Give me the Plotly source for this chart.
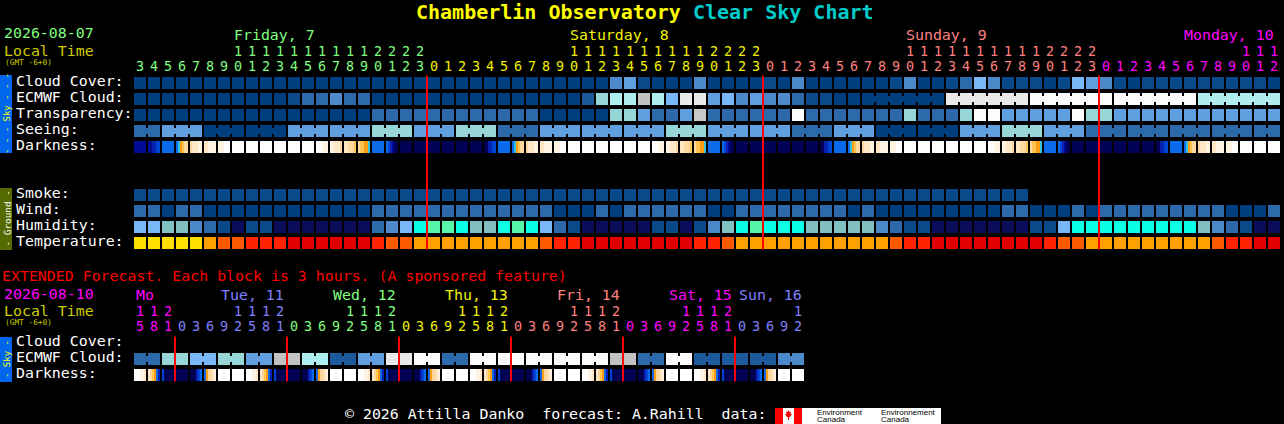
import plotly.graph_objects as go

W, H = 1284, 424
MONO = "DejaVu Sans Mono"
FS = 14.9
DS = 13.4  # hour digit size

# ---------------- tick labels ----------------
main_hours = [3, 4, 5, 6, 7, 8, 9, 10, 11, 12, 13, 14, 15, 16, 17, 18, 19, 20, 21, 22, 23,
              0, 1, 2, 3, 4, 5, 6, 7, 8, 9, 10, 11, 12, 13, 14, 15, 16, 17, 18, 19, 20, 21, 22, 23,
              0, 1, 2, 3, 4, 5, 6, 7, 8, 9, 10, 11, 12, 13, 14, 15, 16, 17, 18, 19, 20, 21, 22, 23,
              0, 1, 2, 3, 4, 5, 6, 7, 8, 9, 10, 11, 12]
main_day_names = ["Friday, 7", "Saturday, 8", "Sunday, 9", "Monday, 10"]
main_day_colors = ["#80ff80", "#f2f200", "#ff8080", "#ff00ff"]

ext_hours = [15, 18, 21,
             0, 3, 6, 9, 12, 15, 18, 21,
             0, 3, 6, 9, 12, 15, 18, 21,
             0, 3, 6, 9, 12, 15, 18, 21,
             0, 3, 6, 9, 12, 15, 18, 21,
             0, 3, 6, 9, 12, 15, 18, 21,
             0, 3, 6, 9, 12]
ext_day_names = ["Mo", "Tue, 11", "Wed, 12", "Thu, 13", "Fri, 14", "Sat, 15", "Sun, 16"]
ext_day_colors = ["#ff00ff", "#8080ff", "#80ff80", "#f2f200", "#ff8080", "#ff00ff", "#8080ff"]

# ---------------- block values (one code per hour block) ----------------
cloud_cover = ("AAAAAAAAAAAAAAAAAAAAA" "AAAAAAAAAAAAACDaAAACAAAA"
               "aACAAAAAAaCAAaBECaaaAaED" "CaAaaaaaaaaaA")
ecmwf_cloud = ("AAAAAAAAAAAaBBCBBAAAA" "AAAAAAAAAAAbFGGHGEIIDECD"
               "CCBaaAAAAAAAAIIIIIIWWWWW" "WWWWWWWGGGGGG")
ecmwf_group_sizes = [1] * 52 + [6, 6, 6, 6, 6]
transparency = ("AAAAAAAAAAAAAAAAABBBB" "BBBBBBBBAAAAAFFDBBDPBBBB"
                "BBWBBBBBBBFBBBFWWDDDDDWF" "FDDDDDDDDDDDD")
seeing_values = ["B", "D", "A", "A", "D", "D", "F", "D", "F", "B", "D", "D", "D", "F",
                 "D", "D", "B", "D", "A", "A", "D", "F", "D", "B", "B", "B", "B", "B"]
seeing_group_sizes = [2, 3, 3, 3, 3, 3, 3, 3, 3, 3, 3, 3, 3, 3,
                      3, 3, 3, 3, 3, 3, 3, 3, 3, 3, 3, 3, 3, 2]
darkness = ["M", "MMKKJJ", "L", "Lcoypp", "pqqqrr", "qqrrrr", "rrrWWW", "W", "W", "W", "W",
            "W", "W", "WWWrrr", "rrqqqp", "qqpppy", "pyyooc", "L", "LJKMNN", "N", "N",
            "N", "N", "N", "N", "NNKKJJ", "L", "Lcoypp", "pqqqrr", "qqrrrr", "rrrWWW", "W", "W",
            "W", "W", "W", "W", "WWWrrr", "rrqqqp", "qqpppy", "pyyooc", "L", "LJKMNN", "N", "N",
            "N", "N", "N", "N", "NNKKJJ", "L", "Lcoypp", "pqqqrr", "qqrrrr", "rrrWWW", "W", "W",
            "W", "W", "W", "W", "WWWrrr", "rrqqqp", "qqpppy", "pyyooc", "L", "LJKMNN", "N", "N",
            "N", "N", "N", "N", "NNKKJJ", "L", "Lcoypp", "pqqqrr", "qqrrrr", "rrrWWW", "W", "W", "W"]
smoke = ("aaaaaaaaaaaaaaaaaaaaa" "aaaaaaaaaaaaaaaaaaaaaaaa"
         "aaaaaaaaaaaaaaaaaaa....." ".............")
wind = ("BBABBAAAAAAAAAAAABBBB" "BBBBBBBBBAAABABBBBBBAABB"
        "BBBBBBABAAAAAAAAABBAAABA" "BBBBBBBBBAAAB")
humidity = ("EETTCBaVaaVVVVVVVBCEY" "ZZYTTYZYEBaVVVVVaaVaCTYZ"
            "YYYTTTTTCBaaVVVVVVVaaEYY" "YYYYYYYTCBaVV")
temperature = ("yyyyyOooRRRXXXXXXRooO" "OOOOOOOOoRRXXXXXXXXRRoOO"
               "OOOOOOOOOoRRXXXXXXXXRooO" "OOOOOOOOoRRXX")

ext_ecmwf_values = ["B", "F", "E", "F", "D", "H", "G", "b", "D", "I", "W", "B",
                    "W", "W", "W", "W", "W", "H", "B", "W", "b", "b", "b", "C"]
ext_ecmwf_group_sizes = [2, 2, 2, 2, 2, 2, 2, 2, 2, 2, 2, 2,
                         2, 2, 2, 2, 2, 2, 2, 2, 2, 2, 2, 2]
ext_darkness = ["WWWrrq", "qpyoLK", "JNNNNN",
                "N", "NNNKJL", "Loppqr", "W", "W", "WWWrrq", "qpyoLK", "JNNNNN",
                "N", "NNNKJL", "Loppqr", "W", "W", "WWWrrq", "qpyoLK", "JNNNNN",
                "N", "NNNKJL", "Loppqr", "W", "W", "WWWrrq", "qpyoLK", "JNNNNN",
                "N", "NNNKJL", "Loppqr", "W", "W", "WWWrrq", "qpyoLK", "JNNNNN",
                "N", "NNNKJL", "Loppqr", "W", "W", "WWWrrq", "qpyoLK", "JNNNNN",
                "N", "NNNKJL", "Loppqr", "W", "W"]

sky_pal = {'A': '#003f7f', 'a': '#0b4a8a', 'b': '#1c5a9a', 'B': '#2c6aaa', 'C': '#4b89c9',
           'D': '#5f9fdf', 'E': '#78b8f8', 'F': '#96d6d6', 'G': '#aeeeee', 'H': '#c2c2c2',
           'P': '#c8c8c8', 'I': '#e9e9e9', 'W': '#fcfcfc'}
dark_pal = {'N': '#020254', 'M': '#000c96', 'K': '#0a22b0', 'J': '#0046d6', 'L': '#0a6ae8',
            'c': '#30c4e0', 'o': '#ff9c10', 'y': '#ffc452', 'p': '#ffd8a0', 'q': '#ffe6c4',
            'r': '#fff3e4', 'W': '#ffffff'}
hum_pal = {'E': '#78b8f8', 'T': '#80c0c0', 'C': '#4b89c9', 'B': '#2c6aaa', 'a': '#0b4a8a',
           'V': '#0b0b5c', 'Y': '#0affe6', 'Z': '#55f5aa'}
temp_pal = {'y': '#ffdf00', 'O': '#ffa000', 'o': '#ff5a00', 'R': '#ff2200', 'X': '#e00000'}

# ---------------- layout helpers ----------------
HW = 6 / 14      # half block width (data units)
HH = 0.375       # half block height
CH = 0.1875      # half connector height
EXT = 16.25      # row offset of extended section
LAB = -0.1       # label vertical nudge (rows)
PX = 1 / 14      # one pixel in x data units

fig = go.Figure()


def expand(values, sizes):
    out = []
    for v, s in zip(values, sizes):
        out += [v] * s
    return out


def add_row(codes, pal, yrow, sizes=None):
    polys = {}

    def rect(color, x0, x1, y0, y1):
        xs, ys = polys.setdefault(color, ([], []))
        xs += [x0, x1, x1, x0, x0, None]
        ys += [y0, y0, y1, y1, y0, None]

    for i, code in enumerate(codes):
        n = len(code)
        for j, ch in enumerate(code):
            if ch == '.':
                continue
            x0 = i - HW + j * 2 * HW / n
            x1 = i - HW + (j + 1) * 2 * HW / n
            rect(pal[ch], x0, x1, yrow - HH, yrow + HH)
    if sizes:
        i = 0
        for s in sizes:
            for k in range(i, i + s - 1):
                rect(pal[codes[k][-1]], k + HW, k + 1 - HW, yrow - CH, yrow + CH)
            i += s
    for color, (xs, ys) in polys.items():
        fig.add_trace(go.Scatter(x=xs, y=ys, fill='toself', fillcolor=color, mode='lines',
                                 line=dict(width=0), hoverinfo='skip'))


# main sky rows
add_row(list(cloud_cover), sky_pal, 0)
add_row(list(ecmwf_cloud), sky_pal, 1, ecmwf_group_sizes)
add_row(list(transparency), sky_pal, 2)
add_row(expand(seeing_values, seeing_group_sizes), sky_pal, 3, seeing_group_sizes)
add_row(darkness, dark_pal, 4)
# ground rows
add_row(list(smoke), sky_pal, 7)
add_row(list(wind), sky_pal, 8)
add_row(list(humidity), hum_pal, 9)
add_row(list(temperature), temp_pal, 10)
# extended rows
add_row(expand(ext_ecmwf_values, ext_ecmwf_group_sizes), sky_pal, EXT + 1, ext_ecmwf_group_sizes)
add_row(ext_darkness, dark_pal, EXT + 2)


def day_segments(hours):
    segs, start = [], 0
    for i in range(1, len(hours)):
        if hours[i] < hours[i - 1]:
            segs.append((start, i))
            start = i
    segs.append((start, len(hours)))
    return segs


# midnight lines
def midnight_lines(hours, y0, y1):
    for a, b in day_segments(hours)[1:]:
        fig.add_trace(go.Scatter(x=[a - 0.5, a - 0.5], y=[y0, y1], mode='lines',
                                 line=dict(color='#ff0000', width=2), hoverinfo='skip'))


midnight_lines(main_hours, -0.45, 10.4)
midnight_lines(ext_hours, EXT - 0.4, EXT + 2.4)


# hour digits
def hour_digits(hours, colors, y_tens, y_ones):
    for (a, b), c in zip(day_segments(hours), colors):
        idx = list(range(a, b))
        tx = [i for i in idx if hours[i] >= 10]
        fig.add_trace(go.Scatter(x=tx, y=[y_tens] * len(tx), mode='text',
                                 text=[str(hours[i] // 10) for i in tx],
                                 textfont=dict(family=MONO, size=DS, color=c),
                                 textposition='middle center', hoverinfo='skip'))
        fig.add_trace(go.Scatter(x=idx, y=[y_ones] * len(idx), mode='text',
                                 text=[str(hours[i] % 10) for i in idx],
                                 textfont=dict(family=MONO, size=DS, color=c),
                                 textposition='middle center', hoverinfo='skip'))


hour_digits(main_hours, main_day_colors, -1.875, -0.9375)
hour_digits(ext_hours, ext_day_colors, 14.375, 15.3125)

anns = []
shapes = []


def ann(text, px, py, color, size=FS, xanchor='left', family=MONO, angle=0):
    anns.append(dict(text=text, x=px / W, y=1 - py / H, xref='paper', yref='paper',
                     xanchor=xanchor, yanchor='middle', showarrow=False, textangle=angle,
                     borderpad=0, font=dict(family=family, size=size, color=color)))


def dann(text, x, y, color, xanchor='left'):
    anns.append(dict(text=text, x=x, y=y, xref='x', yref='y', xanchor=xanchor,
                     yanchor='middle', showarrow=False, borderpad=0,
                     font=dict(family=MONO, size=FS, color=color)))


# day names (main)
for (a, b), name, c in zip(day_segments(main_hours), main_day_names, main_day_colors):
    i10 = [i for i in range(a, b) if main_hours[i] == 10][0]
    if b - i10 >= 8:
        dann(name, i10 - HW + PX, -3.0, c)
    else:
        dann(name, b - 1 + HW - 5 * PX, -3.0, c, xanchor='right')

# day names (extended)
for k, ((a, b), name, c) in enumerate(zip(day_segments(ext_hours), ext_day_names, ext_day_colors)):
    if k == 0:
        dann(name, a - HW + PX, 13.25, c)
    else:
        dann(name, b - 1 + HW - PX, 13.25, c, xanchor='right')

# row labels
for r, lab in enumerate(["Cloud Cover:", "ECMWF Cloud:", "Transparency:", "Seeing:", "Darkness:"]):
    dann(lab, -9 + PX, r + LAB, '#ffffff')
for r, lab in zip([7, 8, 9, 10], ["Smoke:", "Wind:", "Humidity:", "Temperature:"]):
    dann(lab, -9 + PX, r + LAB, '#ffffff')
for r, lab in enumerate(["Cloud Cover:", "ECMWF Cloud:", "Darkness:"]):
    dann(lab, -9 + PX, EXT + r + LAB, '#ffffff')

# title
ann("<b><span style='color:#ffff00'>Chamberlin Observatory</span> "
    "<span style='color:#00cccc'>Clear Sky Chart</span></b>", 415, 12, '#ffff00', size=20)

# header left texts
ann("2026-08-07", 3, 33.5, '#80ff80')
ann("Local Time", 3, 51, '#cccc00')
ann("(GMT -6+0)", 4, 62.5, '#cccc00', size=7.8)
ann("EXTENDED Forecast. Each block is 3 hours. (A sponsored feature)", 1, 276, '#ff0000')
ann("2026-08-10", 3, 293.5, '#ff00ff')
ann("Local Time", 3, 311, '#cccc00')
ann("(GMT -6+0)", 4, 322.5, '#cccc00', size=7.8)


# side bars
def rect_px(x0, y0, x1, y1, color):
    shapes.append(dict(type='rect', xref='paper', yref='paper', x0=x0 / W, x1=x1 / W,
                       y0=1 - y1 / H, y1=1 - y0 / H, fillcolor=color, line=dict(width=0),
                       layer='below'))


rect_px(0, 75, 12, 153, '#0066ee')
rect_px(0, 188, 12, 250, '#556b00')
rect_px(0, 337, 12, 382, '#0066ee')
ann("- - - Sky - - -", 6.5, 113.5, '#ffff00', size=9, xanchor='center', angle=-90)
ann("- Ground -", 6.5, 219, '#ffffff', size=9.4, xanchor='center', angle=-90)
ann("- Sky -", 6.5, 359.5, '#ffff00', size=9, xanchor='center', angle=-90)

# footer
ann("\u00a9 2026 Attilla Danko  forecast: A.Rahill  data:", 344, 414, '#ffffff')
rect_px(775, 408, 783, 424, '#ff0000')
rect_px(783, 408, 794, 424, '#ffffff')
rect_px(794, 408, 802, 424, '#ff0000')
rect_px(802, 408, 941, 424, '#ffffff')
leaf = [(788.5, 410), (789.5, 412), (791, 411.5), (790.5, 414), (792, 414), (790, 417),
        (789, 417), (789, 420), (788, 420), (788, 417), (787, 417), (785, 414), (786.5, 414),
        (786, 411.5), (787.5, 412)]
path = "M " + " L ".join(f"{x / W:.5f},{1 - y / H:.5f}" for x, y in leaf) + " Z"
shapes.append(dict(type='path', xref='paper', yref='paper', path=path,
                   fillcolor='#ff0000', line=dict(width=0)))
ann("Environment", 816, 412, '#000000', size=8, family="Liberation Sans")
ann("Canada", 816, 419.5, '#000000', size=8, family="Liberation Sans")
ann("Environnement", 880, 412, '#000000', size=8, family="Liberation Sans")
ann("Canada", 880, 419.5, '#000000', size=8, family="Liberation Sans")

fig.update_layout(
    width=W, height=H, margin=dict(l=0, r=0, t=0, b=0, pad=0),
    paper_bgcolor='#000000', plot_bgcolor='#000000', showlegend=False,
    xaxis=dict(range=[-10, -10 + W / 14], visible=False, fixedrange=True),
    yaxis=dict(range=[(H - 83) / 16, -83 / 16], visible=False, fixedrange=True),
    annotations=anns, shapes=shapes,
)

fig.write_html("out.html", config={'displayModeBar': False},
               post_script="document.body.style.margin='0';document.body.style.padding='0';"
                           "document.body.style.background='#000';document.body.style.overflow='hidden';")
